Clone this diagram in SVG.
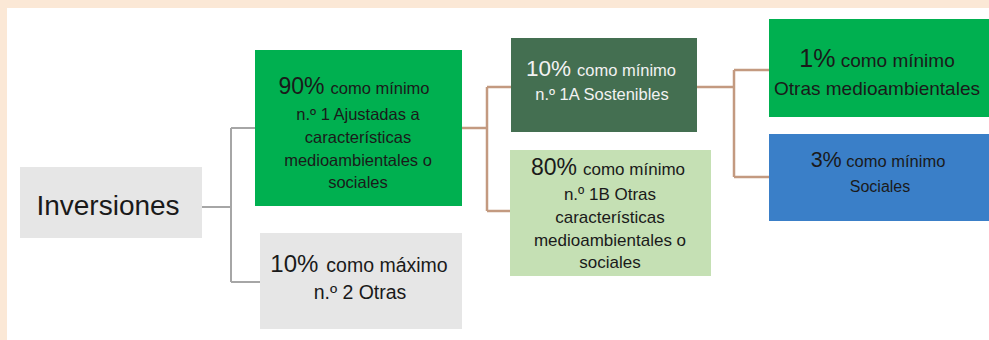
<svg xmlns="http://www.w3.org/2000/svg" width="989" height="340" viewBox="0 0 989 340">
<style>
text{font-family:"Liberation Sans",Arial,sans-serif;text-anchor:middle;fill:#1a1a1a}
.w{fill:#f2f2f2}
.gray{fill:none;stroke:#a6a6a6;stroke-width:2}
.brown{fill:none;stroke:#c39a80;stroke-width:2.5}
</style>
<rect x="0" y="0" width="989" height="340" fill="#fbe8d6"/>
<rect x="7" y="8" width="982" height="332" fill="#ffffff"/>
<g id="connectors">
<path class="gray" d="M202 207H231M231 128V282M231 128H255M231 282H260"/>
<path class="brown" d="M462 128H487M487 87V211M487 87H511M487 211H510"/>
<path class="brown" d="M697 87H734M734 70V177M734 70H769M734 177H769"/>
</g>
<g id="inversiones">
<rect x="20" y="167" width="182" height="71" fill="#e6e6e6"/>
<text x="108" y="215" font-size="28" text-anchor="middle">Inversiones</text>
</g>
<g id="n1">
<rect x="255" y="50" width="207" height="156" fill="#00b050"/>
<text x="354" y="94"><tspan font-size="23">90%</tspan><tspan font-size="16.5" dx="6">como mínimo</tspan></text>
<text x="358" y="120" font-size="16.5">n.º 1 Ajustadas a</text>
<text x="358" y="143" font-size="16.5">características</text>
<text x="358" y="166" font-size="16.5">medioambientales o</text>
<text x="358" y="188" font-size="16.5">sociales</text>
</g>
<g id="n2">
<rect x="260" y="233" width="202" height="96" fill="#e6e6e6"/>
<text x="359" y="272"><tspan font-size="24">10%</tspan><tspan font-size="19.5" dx="8">como máximo</tspan></text>
<text x="360" y="299" font-size="19.5">n.º 2 Otras</text>
</g>
<g id="n1a">
<rect x="511" y="38" width="186" height="94" fill="#446f51"/>
<text class="w" x="601" y="76"><tspan font-size="22.5" class="w">10%</tspan><tspan font-size="16.5" class="w" dx="6">como mínimo</tspan></text>
<text class="w" x="602" y="100" font-size="16.5">n.º 1A Sostenibles</text>
</g>
<g id="n1b">
<rect x="510" y="150" width="201" height="126" fill="#c5e0b4"/>
<text x="608" y="175"><tspan font-size="23">80%</tspan><tspan font-size="17" dx="6">como mínimo</tspan></text>
<text x="610" y="200" font-size="17">n.º 1B Otras</text>
<text x="610" y="223" font-size="17">características</text>
<text x="610" y="246" font-size="17">medioambientales o</text>
<text x="610" y="268" font-size="17">sociales</text>
</g>
<g id="otras-medioambientales">
<rect x="769" y="19" width="220" height="98" fill="#00b050"/>
<text x="877" y="67"><tspan font-size="25">1%</tspan><tspan font-size="19"> como mínimo</tspan></text>
<text x="877" y="95" font-size="19">Otras medioambientales</text>
</g>
<g id="sociales">
<rect x="769" y="134" width="220" height="87" fill="#3a7fc8"/>
<text x="878" y="167"><tspan font-size="21.5">3%</tspan><tspan font-size="16.5"> como mínimo</tspan></text>
<text x="880" y="192" font-size="16">Sociales</text>
</g>
</svg>
